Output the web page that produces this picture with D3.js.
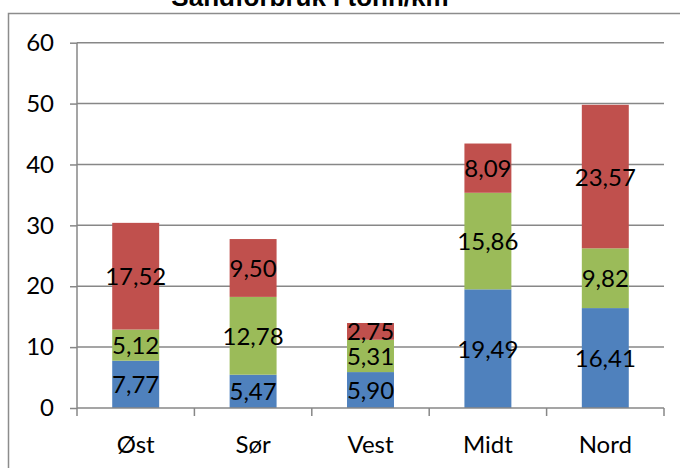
<!DOCTYPE html>
<html>
<head>
<meta charset="utf-8">
<script src="https://cdn.jsdelivr.net/npm/d3@7"></script>
<style>
  body { margin: 0; background: #fff; }
  svg { display: block; }
</style>
</head>
<body>
<svg id="chart" width="680" height="468"></svg>
<script>
var regions = ["Øst", "Sør", "Vest", "Midt", "Nord"];
var serie1 = [7.77, 5.47, 5.90, 19.49, 16.41];
var serie2 = [5.12, 12.78, 5.31, 15.86, 9.82];
var serie3 = [17.52, 9.50, 2.75, 8.09, 23.57];
var yTicks = [0, 10, 20, 30, 40, 50, 60];

var colors = ["#4f81bd", "#9bbb59", "#c0504d"];
var gridColor = "#878787";
var font = "Lato, 'Open Sans', sans-serif";
var fontSize = "24px";

var svg = d3.select("#chart");
var width = 680, height = 468;

var plotLeft = 77, plotRight = 664, plotTop = 42.7, plotBottom = 408;

// rows for the stack
var rows = regions.map(function(r, i) {
  return { region: r, s1: serie1[i], s2: serie2[i], s3: serie3[i] };
});
var stacked = d3.stack().keys(["s1", "s2", "s3"])(rows);

var x = d3.scaleBand().domain(regions).range([plotLeft, plotRight]).paddingInner(0.6).paddingOuter(0.3);
var xb = d3.scaleBand().domain(regions).range([plotLeft, plotRight]);
var y = d3.scaleLinear().domain([0, 60]).range([plotBottom, plotTop]);

// outer frame
svg.append("path")
    .attr("d", "M8.5," + height + "V13.5H" + width)
    .attr("fill", "none")
    .attr("stroke", "#8c8c8c")
    .attr("stroke-width", 1.5);

// title (cut off at the top like the original)
svg.append("text")
    .attr("x", 310)
    .attr("y", 6)
    .attr("text-anchor", "middle")
    .style("font-family", "'Liberation Sans', Arial, sans-serif")
    .style("font-weight", "bold")
    .style("font-size", "26px")
    .text("Sandforbruk i tonn/km");

// gridlines + y labels
var yAxis = svg.append("g")
    .attr("transform", "translate(" + plotLeft + ",0)")
    .call(d3.axisLeft(y).tickValues(yTicks).tickSize(7).tickPadding(16).tickFormat(d3.format("d")));
yAxis.select(".domain").remove();
yAxis.selectAll(".tick line").attr("stroke", gridColor).attr("stroke-width", 1.5);
yAxis.selectAll(".tick text")
    .style("font-family", font)
    .style("font-size", fontSize)
    .attr("fill", "#000");

svg.append("g")
  .selectAll("line")
  .data(yTicks.filter(function(d) { return d > 0; }))
  .enter().append("line")
    .attr("x1", plotLeft).attr("x2", plotRight)
    .attr("y1", function(d) { return y(d); })
    .attr("y2", function(d) { return y(d); })
    .attr("stroke", gridColor)
    .attr("stroke-width", 1.5);

// vertical axis line
svg.append("line")
    .attr("x1", plotLeft).attr("x2", plotLeft)
    .attr("y1", plotTop).attr("y2", plotBottom + 8)
    .attr("stroke", gridColor)
    .attr("stroke-width", 1.5);

// bars
var layers = svg.append("g")
  .selectAll("g")
  .data(stacked)
  .enter().append("g")
    .attr("fill", function(d, i) { return colors[i]; });

layers.selectAll("rect")
  .data(function(d) { return d; })
  .enter().append("rect")
    .attr("x", function(d) { return x(d.data.region); })
    .attr("width", x.bandwidth())
    .attr("y", function(d) { return y(d[1]); })
    .attr("height", function(d) { return y(d[0]) - y(d[1]); });

// value labels
layers.selectAll("text")
  .data(function(d) { return d.map(function(p) { return { p: p, v: p[1] - p[0] }; }); })
  .enter().append("text")
    .attr("x", function(d) { return x(d.p.data.region) + x.bandwidth() / 2; })
    .attr("y", function(d) { return y((d.p[0] + d.p[1]) / 2); })
    .attr("dy", "0.38em")
    .attr("text-anchor", "middle")
    .attr("fill", "#000")
    .style("font-family", font)
    .style("font-size", fontSize)
    .text(function(d) { return d.v.toFixed(2).replace(".", ","); });

// x axis
var xAxis = svg.append("g")
    .attr("transform", "translate(0," + plotBottom + ")");
xAxis.append("line")
    .attr("x1", plotLeft).attr("x2", plotRight)
    .attr("stroke", gridColor).attr("stroke-width", 1.5);
xAxis.selectAll("line.tk")
  .data(regions)
  .enter().append("line")
    .attr("class", "tk")
    .attr("x1", function(d) { return xb(d) + xb.bandwidth(); })
    .attr("x2", function(d) { return xb(d) + xb.bandwidth(); })
    .attr("y1", 0).attr("y2", 8)
    .attr("stroke", gridColor).attr("stroke-width", 1.5);
xAxis.selectAll("text")
  .data(regions)
  .enter().append("text")
    .attr("x", function(d) { return xb(d) + xb.bandwidth() / 2; })
    .attr("y", 36)
    .attr("dy", "0.36em")
    .attr("text-anchor", "middle")
    .style("font-family", font)
    .style("font-size", fontSize)
    .text(function(d) { return d; });
</script>
</body>
</html>
